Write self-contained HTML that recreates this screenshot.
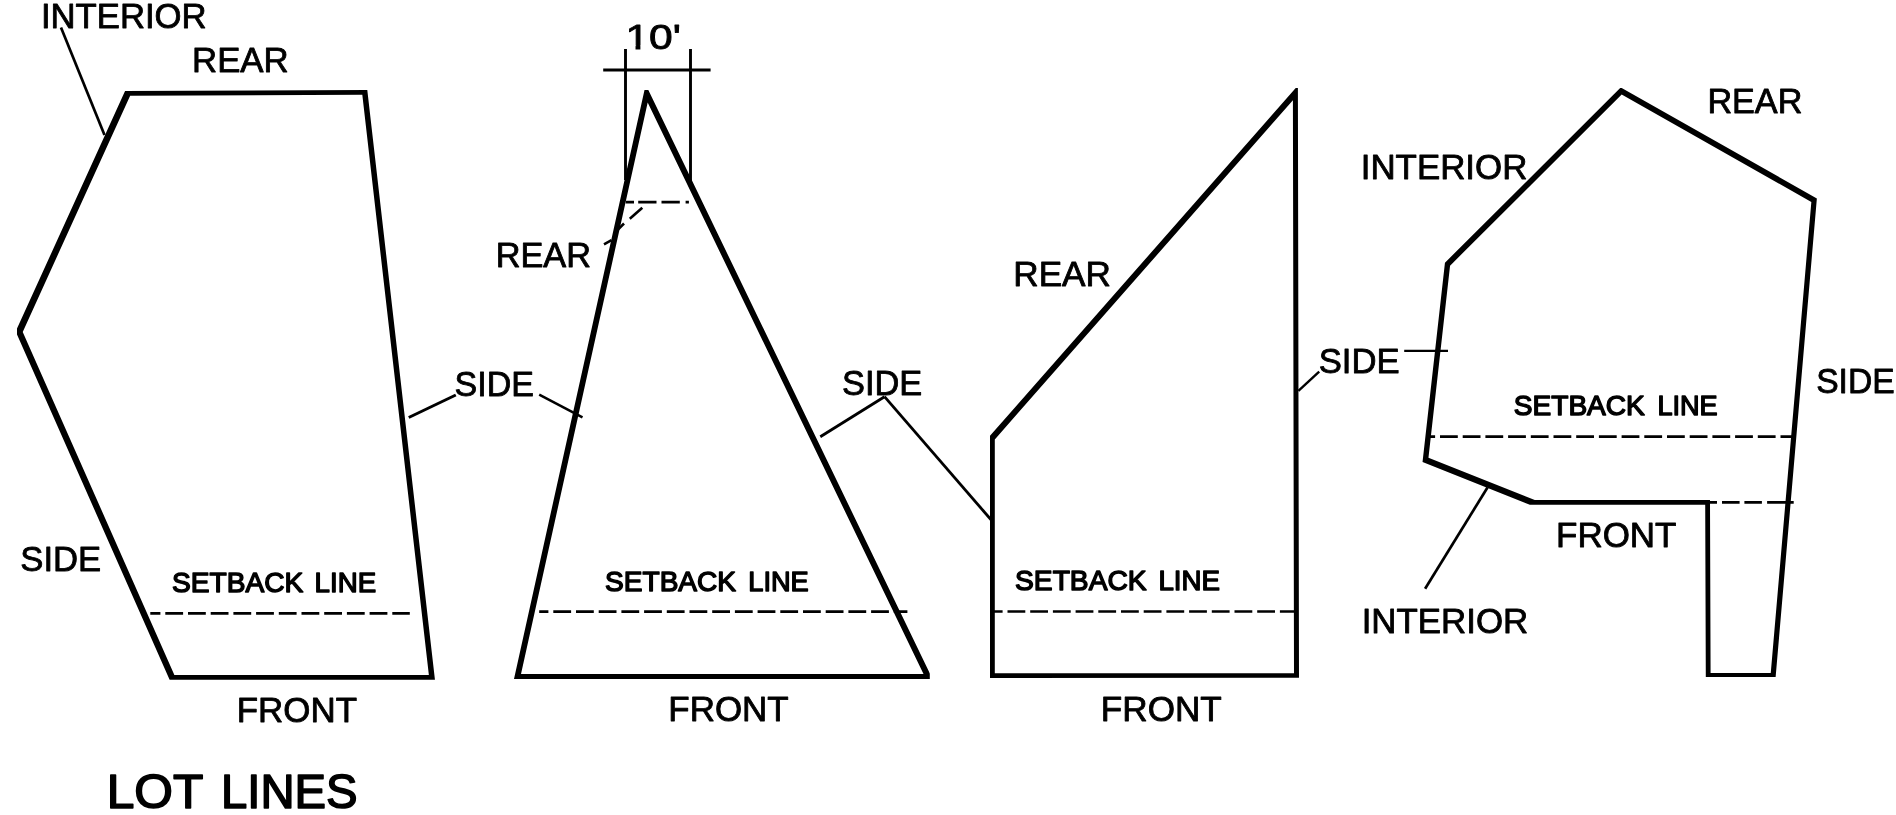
<!DOCTYPE html>
<html lang="en">
<head>
<meta charset="utf-8">
<title>Lot Lines</title>
<style>
html,body{margin:0;padding:0;background:#fff;}
body{width:1896px;height:815px;overflow:hidden;}
svg{display:block;will-change:transform;}
text{font-family:"Liberation Sans",sans-serif;fill:#000;stroke:#000;stroke-linejoin:round;}
.h{fill:#000;fill-rule:evenodd;stroke:none;}
.t{fill:none;stroke:#000;}
</style>
</head>
<body>
<svg width="1896" height="815" viewBox="0 0 1896 815">
<rect width="1896" height="815" fill="#fff"/>
<clipPath id="c0"><rect x="17.1" y="0" width="1878.9" height="815"/></clipPath>
<path class="h" clip-path="url(#c0)" d="M125.06,91.01 L367.29,89.99 L434.94,679.80 L169.62,679.80 L15.67,331.50 Z M130.14,95.79 L362.31,94.81 L428.86,675.00 L174.38,675.00 L22.73,331.90 Z"/>
<clipPath id="c1"><rect x="0" y="90" width="929.8" height="725"/></clipPath>
<path class="h" clip-path="url(#c1)" d="M645.71,84.55 L932.48,678.88 L514.00,678.88 Z M647.69,102.45 L923.52,674.12 L521.00,674.12 Z"/>
<clipPath id="c2"><rect x="0" y="88" width="1896" height="727"/></clipPath>
<path class="h" clip-path="url(#c2)" d="M1297.89,85.53 L1299.00,677.80 L990.00,677.90 L990.00,435.79 Z M1292.91,100.27 L1294.00,673.20 L994.80,673.30 L994.80,439.41 Z"/>
<clipPath id="c3"><rect x="0" y="88" width="1896" height="727"/></clipPath>
<path class="h" clip-path="url(#c3)" d="M1620.72,87.45 L1816.86,198.49 L1775.64,677.00 L1705.81,677.00 L1705.21,504.65 L1529.83,504.75 L1422.54,461.96 L1444.95,262.72 Z M1621.68,94.55 L1811.34,201.91 L1770.76,673.00 L1710.59,673.00 L1709.99,499.95 L1534.77,500.05 L1428.46,457.64 L1450.05,265.68 Z"/>
<line class="t" x1="61" y1="27.5" x2="104.5" y2="135" stroke-width="2.7"/>
<line class="t" x1="455.8" y1="395" x2="408.75" y2="417.5" stroke-width="3.0"/>
<line class="t" x1="539.2" y1="394.7" x2="582.5" y2="417.3" stroke-width="2.5"/>
<line class="t" x1="603.2" y1="70" x2="710.6" y2="70" stroke-width="2.8"/>
<line class="t" x1="625.5" y1="49" x2="625.5" y2="180" stroke-width="2.9"/>
<line class="t" x1="690.5" y1="49" x2="690.5" y2="182" stroke-width="2.9"/>
<line class="t" x1="884.5" y1="396.7" x2="820.3" y2="436.7" stroke-width="2.8"/>
<line class="t" x1="884.5" y1="396.7" x2="993" y2="522" stroke-width="2.8"/>
<line class="t" x1="1319.2" y1="371.7" x2="1298.4" y2="390.9" stroke-width="2.4"/>
<line class="t" x1="1404.2" y1="350.9" x2="1448" y2="350.9" stroke-width="2.3"/>
<line class="t" x1="1487.5" y1="487.5" x2="1425.1" y2="588.8" stroke-width="2.7"/>
<line class="t" x1="150.3" y1="613.4" x2="409.8" y2="613.4" stroke-width="2.7" stroke-dasharray="17.8 4.9" stroke-dashoffset="7.7"/>
<line class="t" x1="539.2" y1="611.6" x2="907.4" y2="611.6" stroke-width="2.7" stroke-dasharray="17.8 4.9" stroke-dashoffset="8.6"/>
<line class="t" x1="993" y1="611.5" x2="1295" y2="611.5" stroke-width="2.7" stroke-dasharray="17.8 4.9" stroke-dashoffset="8.2"/>
<line class="t" x1="1428" y1="436.6" x2="1792" y2="436.6" stroke-width="2.7" stroke-dasharray="17.8 4.9" stroke-dashoffset="10.7"/>
<line class="t" x1="1710" y1="502.3" x2="1793.75" y2="502.3" stroke-width="2.8" stroke-dasharray="7 5 17.6 4.8 17.5 5.2 26.6 100" stroke-dashoffset="0"/>
<line class="t" x1="625.7" y1="202.2" x2="691" y2="202.2" stroke-width="2.8" stroke-dasharray="8.3 4.2 18.3 5 18.3 5.8 3.3 100" stroke-dashoffset="0"/>
<line class="t" x1="642.3" y1="207.7" x2="629.8" y2="218.8" stroke-width="2.6" stroke-dasharray="100 1" stroke-dashoffset="0"/>
<line class="t" x1="624" y1="223.5" x2="618.2" y2="229.3" stroke-width="2.6" stroke-dasharray="100 1" stroke-dashoffset="0"/>
<line class="t" x1="611.5" y1="240.2" x2="604" y2="244.3" stroke-width="2.6" stroke-dasharray="100 1" stroke-dashoffset="0"/>
<text font-size="35" stroke-width="0.85"><tspan x="40.92" y="28.12" textLength="165.75" lengthAdjust="spacingAndGlyphs">INTERIOR</tspan></text>
<text font-size="35" stroke-width="0.85"><tspan x="192.06" y="71.58" textLength="96.62" lengthAdjust="spacingAndGlyphs">REAR</tspan></text>
<text font-size="35" stroke-width="0.85"><tspan x="20.29" y="571.48" textLength="80.88" lengthAdjust="spacingAndGlyphs">SIDE</tspan></text>
<text font-size="27.2" stroke-width="1.4"><tspan x="172.09" y="591.90" textLength="131.21" lengthAdjust="spacingAndGlyphs">SETBACK</tspan> <tspan x="314.63" y="591.75" textLength="61.51" lengthAdjust="spacingAndGlyphs">LINE</tspan></text>
<text font-size="35" stroke-width="0.85"><tspan x="236.81" y="721.98" textLength="120.25" lengthAdjust="spacingAndGlyphs">FRONT</tspan></text>
<text font-size="47.8" stroke-width="1.6"><tspan x="106.67" y="808.05" textLength="95.74" lengthAdjust="spacingAndGlyphs">LOT</tspan> <tspan x="221.07" y="808.05" textLength="136.48" lengthAdjust="spacingAndGlyphs">LINES</tspan></text>
<text font-size="35" stroke-width="0.85"><tspan x="625.42" y="49.17" textLength="55.51" lengthAdjust="spacingAndGlyphs">10'</tspan></text>
<text font-size="35" stroke-width="0.85"><tspan x="495.70" y="267.22" textLength="95.32" lengthAdjust="spacingAndGlyphs">REAR</tspan></text>
<text font-size="35" stroke-width="0.85"><tspan x="454.60" y="395.93" textLength="79.38" lengthAdjust="spacingAndGlyphs">SIDE</tspan></text>
<text font-size="35" stroke-width="0.85"><tspan x="842.09" y="395.12" textLength="80.23" lengthAdjust="spacingAndGlyphs">SIDE</tspan></text>
<text font-size="27.2" stroke-width="1.4"><tspan x="605.09" y="590.55" textLength="130.96" lengthAdjust="spacingAndGlyphs">SETBACK</tspan> <tspan x="748.28" y="590.65" textLength="60.46" lengthAdjust="spacingAndGlyphs">LINE</tspan></text>
<text font-size="35" stroke-width="0.85"><tspan x="668.35" y="721.28" textLength="120.30" lengthAdjust="spacingAndGlyphs">FRONT</tspan></text>
<text font-size="35" stroke-width="0.85"><tspan x="1013.30" y="286.37" textLength="97.57" lengthAdjust="spacingAndGlyphs">REAR</tspan></text>
<text font-size="27.2" stroke-width="1.4"><tspan x="1015.09" y="590.05" textLength="131.46" lengthAdjust="spacingAndGlyphs">SETBACK</tspan> <tspan x="1158.38" y="590.15" textLength="61.51" lengthAdjust="spacingAndGlyphs">LINE</tspan></text>
<text font-size="35" stroke-width="0.85"><tspan x="1100.86" y="720.78" textLength="120.95" lengthAdjust="spacingAndGlyphs">FRONT</tspan></text>
<text font-size="35" stroke-width="0.85"><tspan x="1318.74" y="372.62" textLength="80.98" lengthAdjust="spacingAndGlyphs">SIDE</tspan></text>
<text font-size="35" stroke-width="0.85"><tspan x="1360.72" y="179.13" textLength="166.65" lengthAdjust="spacingAndGlyphs">INTERIOR</tspan></text>
<text font-size="35" stroke-width="0.85"><tspan x="1707.40" y="112.52" textLength="94.97" lengthAdjust="spacingAndGlyphs">REAR</tspan></text>
<text font-size="35" stroke-width="0.85"><tspan x="1816.15" y="393.47" textLength="78.48" lengthAdjust="spacingAndGlyphs">SIDE</tspan></text>
<text font-size="27.2" stroke-width="1.4"><tspan x="1513.79" y="415.00" textLength="131.06" lengthAdjust="spacingAndGlyphs">SETBACK</tspan> <tspan x="1657.43" y="415.10" textLength="60.16" lengthAdjust="spacingAndGlyphs">LINE</tspan></text>
<text font-size="35" stroke-width="0.85"><tspan x="1556.06" y="546.98" textLength="120.45" lengthAdjust="spacingAndGlyphs">FRONT</tspan></text>
<text font-size="35" stroke-width="0.85"><tspan x="1361.67" y="633.28" textLength="166.66" lengthAdjust="spacingAndGlyphs">INTERIOR</tspan></text>
<rect x="627.37" y="45.5" width="8.15" height="5" fill="#fff"/>
<rect x="640.40" y="45.5" width="7.6" height="5" fill="#fff"/>
</svg>
</body>
</html>
